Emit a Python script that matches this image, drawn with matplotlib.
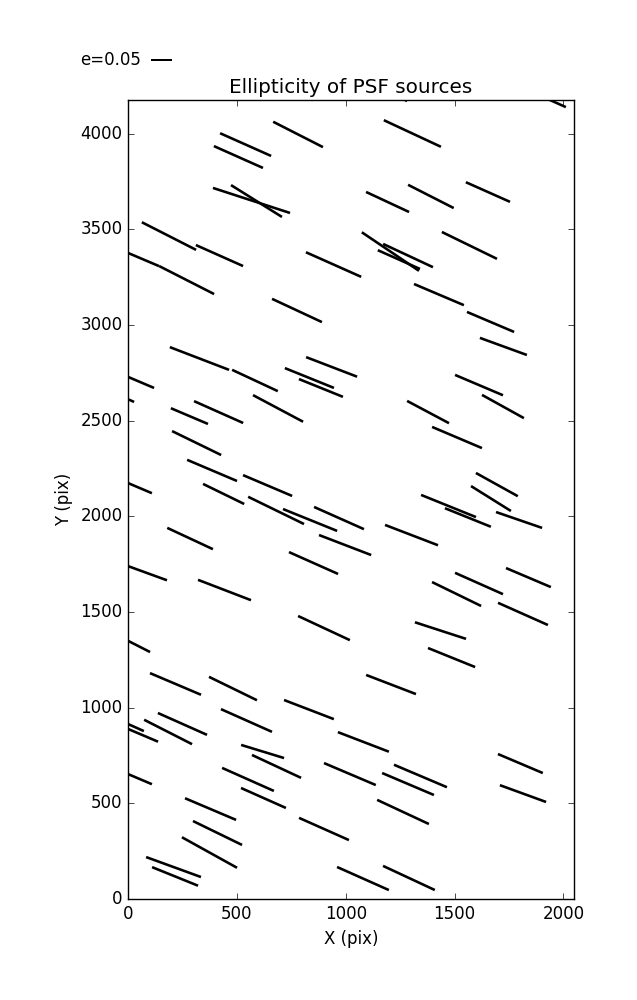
import numpy as np
import matplotlib
matplotlib.use('Agg')
import matplotlib.pyplot as plt

# ── PSF source measurements: position (pix), ellipticity, position angle (deg) ──

x_pix = [540, 507, 781, 567, 590, 188, 420, 24, 269, 776,
         944, 328, 583, 935, 833, 886, 1906, 1177, 1306, 1391,
         1653, 1192, 1205, 1286, 1244, 1568, 1428, 1665, 1724, 1612,
         1722, 1378, 1511, 1694, 1667, 1472, 1561, 1796, 1302, 969,
         997, 1839, 1612, 1509, 1814, 1435, 900, 14, -77, 282,
         416, 689, 315, 386, 641, 439, 680, 836, 4, 285,
         852, 60, 443, -1, 218, 482, 831, 544, 250, 184,
         -11, 43, 618, 682, 1081, 1486, 1208, 1019, 1343, 1286,
         1263, 1802, 1814, 900, 1079, 1290, 551, 622, 4, 379,
         411, 374, 209, 216]

y_pix = [3943, 3878, 3996, 3651, 3648, 3465, 3363, 3365, 3235, 3076,
         3316, 2825, 2710, 2781, 2723, 2671, 4192, 4224, 4001, 3672,
         3695, 3643, 3384, 3363, 3342, 3416, 3159, 3016, 2888, 2686,
         2574, 2545, 2412, 2166, 2093, 2054, 1994, 1981, 1902, 1991,
         1850, 1680, 1649, 1594, 1490, 1403, 1416, 2722, 2651, 2524,
         2545, 2564, 2383, 2240, 2161, 2117, 2031, 1981, 2172, 1884,
         1756, 1715, 1615, 1350, 1124, 1100, 990, 933, 915, 873,
         920, 868, 771, 693, 821, 1262, 1121, 653, 643, 601,
         455, 708, 551, 366, 107, 110, 625, 528, 651, 470,
         345, 243, 167, 118]

ellip = [0.133, 0.128, 0.133, 0.193, 0.143, 0.145, 0.123, 0.133, 0.147, 0.131,
         0.144, 0.151, 0.120, 0.130, 0.126, 0.113, 0.119, 0.119, 0.150, 0.122,
         0.115, 0.113, 0.164, 0.131, 0.110, 0.146, 0.129, 0.122, 0.119, 0.124,
         0.114, 0.113, 0.129, 0.114, 0.112, 0.141, 0.118, 0.116, 0.135, 0.130,
         0.133, 0.116, 0.125, 0.130, 0.130, 0.128, 0.136, 0.119, 0.119, 0.096,
         0.128, 0.135, 0.130, 0.129, 0.127, 0.109, 0.148, 0.139, 0.119, 0.120,
         0.128, 0.131, 0.135, 0.119, 0.132, 0.127, 0.127, 0.133, 0.128, 0.128,
         0.095, 0.107, 0.107, 0.129, 0.130, 0.121, 0.127, 0.134, 0.137, 0.134,
         0.136, 0.116, 0.117, 0.130, 0.135, 0.136, 0.135, 0.117, 0.119, 0.132,
         0.130, 0.150, 0.139, 0.118]

theta = [-24, -24, -27, -18, -32, -27, -24, -23, -27, -25,
         -24, -21, -25, -21, -22, -22, -24, -24, -25, -27,
         -24, -25, -34, -25, -24, -26, -23, -23, -20, -23,
         -29, -28, -23, -29, -32, -22, -22, -19, -21, -24,
         -21, -23, -24, -26, -24, -18, -25, -23, -24, -23,
         -24, -28, -26, -23, -23, -26, -26, -22, -23, -25,
         -24, -20, -21, -27, -23, -26, -21, -24, -24, -27,
         -24, -23, -17, -25, -21, -22, -21, -23, -23, -23,
         -25, -23, -20, -24, -24, -25, -24, -24, -23, -23,
         -26, -29, -20, -22]

KEY_E = 0.05
X_MAX, Y_MAX = 2048, 4176

# ── Plot ──────────────────────────────────────────────────────────────────────

plt.style.use('classic')
plt.rcParams.update({
    'figure.facecolor': 'white',
    'savefig.facecolor': 'white',
    'font.family': ['DejaVu Sans'],
})

fig = plt.figure(figsize=(6.37, 10.0), dpi=100)
ax = fig.add_axes([0.201, 0.101, 0.700, 0.799])

th = np.radians(theta)
e = np.array(ellip)
u = e * np.cos(th)
v = e * np.sin(th)

# headless sticks centred on the source, 0.05 -> 0.21 inch
q = ax.quiver(x_pix, y_pix, u, v, pivot='middle',
              headwidth=0, headlength=0, headaxislength=0,
              scale=KEY_E / 0.21, scale_units='inches',
              units='inches', width=0.026, color='black')

# key with label on the west side: X is the tail of the stick
ax.quiverkey(q, X=0.237, Y=0.94, U=KEY_E, label='e=0.05', labelpos='W',
             coordinates='figure', fontproperties={'size': 12})

ax.set_xlim(0, X_MAX)
ax.set_ylim(0, Y_MAX)
ax.set_xticks([0, 500, 1000, 1500, 2000])
ax.set_yticks(np.arange(0, 4001, 500))
ax.set_xlabel('X (pix)')
ax.set_ylabel('Y (pix)')
ax.set_title('Ellipticity of PSF sources')

fig.savefig('out.png', dpi=100)
